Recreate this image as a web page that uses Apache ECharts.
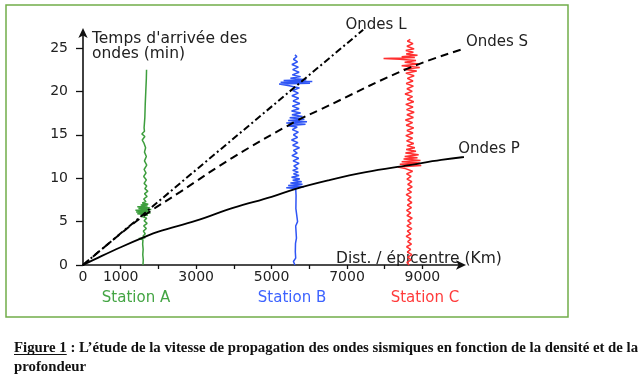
<!DOCTYPE html>
<html><head><meta charset="utf-8">
<script src="https://cdn.jsdelivr.net/npm/echarts@6/dist/echarts.min.js"></script>
<style>html,body{margin:0;padding:0;background:#fff}#c{width:642px;height:380px}</style>
</head><body><div id="c"></div>
<script>
// ---- axes ----
const xTickValues = [1000, 2000, 3000, 4000, 5000, 6000, 7000, 8000, 9000];
const xLabelValues = [0, 1000, 3000, 5000, 7000, 9000];
const yTickValues = [0, 5, 10, 15, 20, 25];
const xAxisTitle = 'Dist. / épicentre (Km)';
const yAxisTitle = "Temps d'arrivée des\nondes (min)";

// ---- wave travel-time curves (distance km, time min) ----
const waveNames = ['Ondes P', 'Ondes S', 'Ondes L'];
const pDist = [0, 500, 1000, 1590, 2000, 3000, 4000, 5000, 5620, 6500, 7500, 8650, 9500, 10600];
const pTime = [0, 1.05, 2.05, 3.15, 3.85, 5.1, 6.6, 7.85, 8.75, 9.75, 10.7, 11.5, 12.1, 12.7];
const sDist = [0, 800, 1590, 2570, 3980, 5620, 6290, 8650, 10320];
const sTime = [0, 2.9, 5.6, 8.4, 12.4, 16.5, 17.9, 22.7, 25.2];
const lDist = [0, 1590, 2570, 5620, 7430];
const lTime = [0, 5.8, 9.4, 20.5, 27.1];

// ---- stations and seismograms: [time min, offset km from station] ----
const stationNames = ['Station A', 'Station B', 'Station C'];
const stationDist = [1590, 5620, 8650];
const traceA = [
  [0,0],[0.6,8],[1.2,-5],[1.8,5],[2.4,-8],[2.9,0],[3.05,-110],[3.15,60],[3.3,0],[3.6,60],
  [3.9,10],[4.2,90],[4.5,20],[4.8,110],[5.1,30],[5.4,100],[5.6,-40],[5.75,130],[5.9,-150],[6.0,200],
  [6.1,-180],[6.2,160],[6.3,-200],[6.4,220],[6.5,-120],[6.6,180],[6.7,-150],[6.8,120],[6.9,-60],[7.0,140],
  [7.15,-20],[7.3,80],[7.6,20],[7.9,110],[8.2,40],[8.5,130],[8.8,50],[9.1,100],[9.4,30],[9.8,90],
  [10.2,20],[10.6,80],[11.0,30],[11.5,100],[12.0,40],[12.5,90],[13.0,40],[13.5,70],[14.0,30],[14.4,-20],
  [14.8,50],[15.1,-30],[15.4,40],[15.8,30],[17,50],[18.5,60],[20,75],[21.5,90],[22.5,95]
];
const traceB = [
  [0,0],[0.4,-40],[0.8,20],[1.5,10],[2.5,15],[3.1,40],[3.3,5],[4.5,20],[5.0,70],[5.2,20],
  [6.5,25],[8.0,30],[8.8,20],[8.9,-230],[9.0,240],[9.15,-180],[9.3,200],[9.45,-120],[9.6,180],[9.75,-60],
  [9.9,130],[10.1,-90],[10.3,110],[10.5,-40],[10.7,90],[10.9,-60],[11.1,80],[11.4,-30],[11.7,110],[12.0,-50],
  [12.3,100],[12.6,-80],[12.9,60],[13.2,-40],[13.5,120],[13.8,-60],[14.1,80],[14.4,-90],[14.7,70],[15.0,-40],
  [15.3,90],[15.6,-70],[15.9,60],[16.05,-200],[16.2,280],[16.35,-230],[16.5,320],[16.65,-180],[16.8,250],[16.95,-140],
  [17.1,200],[17.3,-80],[17.5,150],[17.75,-90],[18.0,110],[18.3,-70],[18.6,130],[18.9,-50],[19.2,100],[19.5,-80],
  [19.8,90],[20.1,-60],[20.4,120],[20.65,-150],[20.85,-420],[20.95,400],[21.05,-380],[21.15,460],[21.25,-300],[21.35,300],
  [21.5,-120],[21.7,150],[21.9,-70],[22.2,110],[22.5,-60],[22.8,90],[23.1,-80],[23.4,70],[23.7,-40],[24.0,50],[24.2,0]
];
const traceC = [
  [0,0],[0.3,-60],[0.6,50],[0.9,-40],[1.2,70],[1.5,-50],[1.8,40],[2.1,-70],[2.4,60],[2.7,-40],
  [3.0,50],[3.3,-80],[3.6,40],[3.9,-50],[4.2,70],[4.5,-60],[4.8,50],[5.1,-40],[5.4,80],[5.7,-60],
  [6.0,40],[6.3,-70],[6.6,60],[6.9,-50],[7.2,70],[7.5,-40],[7.8,50],[8.1,-80],[8.4,60],[8.7,-50],
  [9.0,80],[9.3,-40],[9.6,70],[9.9,-60],[10.2,50],[10.5,-70],[10.8,90],[11.1,-100],[11.3,-300],[11.45,320],
  [11.6,-250],[11.75,280],[11.9,-200],[12.05,300],[12.2,-150],[12.35,220],[12.5,-120],[12.7,250],[12.9,-100],[13.1,180],
  [13.3,-80],[13.5,150],[13.75,-60],[14.0,120],[14.3,-70],[14.6,90],[14.9,-90],[15.2,100],[15.5,-60],[15.8,120],
  [16.1,-80],[16.4,90],[16.7,-100],[17.0,110],[17.3,-60],[17.6,130],[17.9,-70],[18.2,100],[18.5,-90],[18.8,120],
  [19.1,-50],[19.4,90],[19.7,-110],[20.0,80],[20.3,-60],[20.6,110],[20.9,-80],[21.2,100],[21.5,-50],[21.8,130],
  [22.1,-90],[22.35,200],[22.55,-150],[22.75,280],[22.95,-200],[23.15,250],[23.35,-120],[23.55,180],[23.7,-250],[23.8,-680],
  [23.9,150],[24.0,-200],[24.15,220],[24.3,-80],[24.5,110],[24.7,-90],[24.9,130],[25.2,-60],[25.5,100],[25.8,-50],[26.0,30]
];
const traces = [traceA, traceB, traceC];
const stationColors = ['#3d9e3d', '#2f55f5', '#ff3030'];
const stationTextColors = ['#44a544', '#3d63ff', '#ff3b3b'];

const captionLine1 = 'Figure 1 : L’étude de la vitesse de propagation des ondes sismiques en fonction de la densité et de la';
const captionLine2 = 'profondeur';
const captionUnderlined = 'Figure 1';

const zip = (a, b) => a.map((v, i) => [v, b[i]]);
const sans = 'DejaVu Sans';
const labFont = '15px "DejaVu Sans"';
const capFont = 'bold 14.8px "Liberation Serif"';
const mctx = document.createElement('canvas').getContext('2d');
mctx.font = capFont;
const ulW = mctx.measureText(captionUnderlined).width;

const chart = echarts.init(document.getElementById('c'), null, {renderer: 'canvas'});

const series = [
  {name: waveNames[0], type: 'line', data: zip(pDist, pTime), smooth: 0.4, symbol: 'none', clip: false,
   lineStyle: {color: '#000', width: 1.8}, z: 3},
  {name: waveNames[1], type: 'line', data: zip(sDist, sTime), smooth: 0.4, symbol: 'none', clip: false,
   lineStyle: {color: '#000', width: 2, type: [8, 5]}, z: 3},
  {name: waveNames[2], type: 'line', data: zip(lDist, lTime), symbol: 'none', clip: false,
   lineStyle: {color: '#000', width: 2, type: [7, 3, 2, 3]}, z: 3}
];
traces.forEach((tr, i) => {
  series.push({
    name: stationNames[i], type: 'line', symbol: 'none', clip: false, z: 2,
    data: tr.map(p => [stationDist[i] + p[1], p[0]]),
    lineStyle: {color: stationColors[i], width: 1.5}
  });
});

chart.setOption({
  animation: false,
  backgroundColor: '#fff',
  grid: {left: 83, right: 180, top: 32, bottom: 115},
  xAxis: {
    type: 'value', min: 0, max: 10050, interval: 1000,
    axisLine: {show: true, lineStyle: {color: '#111', width: 1.6}, symbol: ['none', 'arrow'], symbolSize: [7, 10], symbolOffset: [0, 4]},
    axisTick: {show: true, inside: false, length: 4, customValues: xTickValues, lineStyle: {color: '#111', width: 1.3}},
    axisLabel: {customValues: xLabelValues, margin: 5, fontFamily: sans, fontSize: 14, color: '#222', formatter: v => String(v)},
    splitLine: {show: false}
  },
  yAxis: {
    type: 'value', min: 0, max: 26.84, interval: 5,
    axisLine: {show: true, lineStyle: {color: '#111', width: 1.6}, symbol: ['none', 'arrow'], symbolSize: [7, 10], symbolOffset: [0, 4]},
    axisTick: {show: true, inside: false, length: 7, customValues: yTickValues, lineStyle: {color: '#111', width: 1.3}},
    axisLabel: {customValues: yTickValues, margin: 15, fontFamily: sans, fontSize: 14, color: '#222', formatter: v => String(v)},
    splitLine: {show: false}
  },
  series: series,
  graphic: [
    {type: 'rect', shape: {x: 6, y: 5, width: 562, height: 312}, style: {fill: 'none', stroke: '#72ad4a', lineWidth: 1.5}, silent: true},
    {type: 'text', x: 92, y: 46, style: {text: yAxisTitle, font: '15.5px "DejaVu Sans"', fill: '#222', textVerticalAlign: 'middle', lineHeight: 15}},
    {type: 'text', x: 336, y: 259, style: {text: xAxisTitle, font: '15.5px "DejaVu Sans"', fill: '#222', textVerticalAlign: 'middle'}},
    {type: 'text', x: 376, y: 25, style: {text: waveNames[2], font: labFont, fill: '#222', textAlign: 'center', textVerticalAlign: 'middle'}},
    {type: 'text', x: 497, y: 42, style: {text: waveNames[1], font: labFont, fill: '#222', textAlign: 'center', textVerticalAlign: 'middle'}},
    {type: 'text', x: 489, y: 149, style: {text: waveNames[0], font: labFont, fill: '#222', textAlign: 'center', textVerticalAlign: 'middle'}},
    {type: 'text', x: 136, y: 298, style: {text: stationNames[0], font: labFont, fill: stationTextColors[0], textAlign: 'center', textVerticalAlign: 'middle'}},
    {type: 'text', x: 292, y: 298, style: {text: stationNames[1], font: labFont, fill: stationTextColors[1], textAlign: 'center', textVerticalAlign: 'middle'}},
    {type: 'text', x: 425, y: 298, style: {text: stationNames[2], font: labFont, fill: stationTextColors[2], textAlign: 'center', textVerticalAlign: 'middle'}},
    {type: 'text', x: 14, y: 348, style: {text: captionLine1, font: capFont, fill: '#111', textVerticalAlign: 'middle'}},
    {type: 'text', x: 14, y: 367, style: {text: captionLine2, font: capFont, fill: '#111', textVerticalAlign: 'middle'}},
    {type: 'line', shape: {x1: 14, y1: 354.5, x2: 14 + ulW, y2: 354.5}, style: {stroke: '#111', lineWidth: 1}}
  ]
});
</script>
</body></html>
